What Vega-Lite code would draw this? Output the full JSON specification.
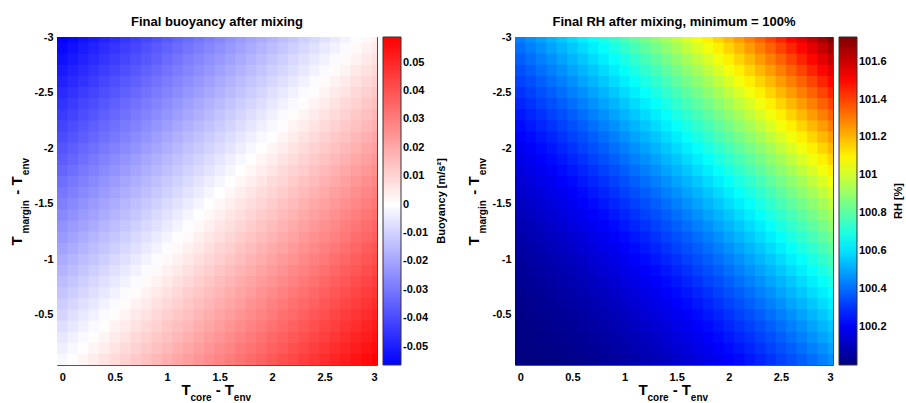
{
"$schema":"https://vega.github.io/schema/vega-lite/v6.json",
"background":"white",
"padding":{"left":8,"top":15,"right":2,"bottom":0},
"config":{
 "font":"Liberation Sans",
 "view":{"stroke":"#555"},
 "axis":{"labelFont":"Liberation Sans","labelFontSize":11,"labelFontWeight":"bold","labelColor":"#000","titleFont":"Liberation Sans","titleColor":"#000","titleFontWeight":"bold","ticks":false,"domain":false,"gridColor":"#000","gridOpacity":0.12,"zindex":1},
 "legend":{"orient":"right","offset":6,"padding":0,"gradientLength":328,"gradientThickness":18,"gradientStrokeColor":"#333","gradientStrokeWidth":1,"labelFont":"Liberation Sans","labelFontSize":11,"labelFontWeight":"bold","labelColor":"#000","labelOffset":3,"labelOverlap":false,"titleOrient":"right","titleAnchor":"middle","titleFont":"Liberation Sans","titleFontSize":11,"titleFontWeight":"bold","titleColor":"#000","titlePadding":8},
 "title":{"font":"Liberation Sans","fontSize":13,"fontWeight":"bold","color":"#000"},
 "concat":{"spacing":17}
},
"datasets":{"g":[
{"x":0,"y":-3,"b":-0.0567,"r":100.432},{"x":0.1,"y":-3,"b":-0.0547,"r":100.461},{"x":0.2,"y":-3,"b":-0.0527,"r":100.492},{"x":0.3,"y":-3,"b":-0.0507,"r":100.523},{"x":0.4,"y":-3,"b":-0.0487,"r":100.555},{"x":0.5,"y":-3,"b":-0.0467,"r":100.588},{"x":0.6,"y":-3,"b":-0.0447,"r":100.622},{"x":0.7,"y":-3,"b":-0.0427,"r":100.657},{"x":0.8,"y":-3,"b":-0.0407,"r":100.693},{"x":0.9,"y":-3,"b":-0.0387,"r":100.73},{"x":1,"y":-3,"b":-0.0367,"r":100.768},{"x":1.1,"y":-3,"b":-0.0347,"r":100.807},{"x":1.2,"y":-3,"b":-0.0327,"r":100.847},{"x":1.3,"y":-3,"b":-0.0307,"r":100.888},{"x":1.4,"y":-3,"b":-0.0287,"r":100.929},{"x":1.5,"y":-3,"b":-0.0267,"r":100.972},{"x":1.6,"y":-3,"b":-0.0247,"r":101.016},{"x":1.7,"y":-3,"b":-0.0227,"r":101.06},{"x":1.8,"y":-3,"b":-0.0207,"r":101.106},{"x":1.9,"y":-3,"b":-0.0187,"r":101.152},{"x":2,"y":-3,"b":-0.0167,"r":101.2},{"x":2.1,"y":-3,"b":-0.0147,"r":101.248},{"x":2.2,"y":-3,"b":-0.0127,"r":101.298},{"x":2.3,"y":-3,"b":-0.0107,"r":101.348},{"x":2.4,"y":-3,"b":-0.0087,"r":101.4},{"x":2.5,"y":-3,"b":-0.0067,"r":101.452},{"x":2.6,"y":-3,"b":-0.0047,"r":101.505},{"x":2.7,"y":-3,"b":-0.0027,"r":101.56},{"x":2.8,"y":-3,"b":-0.0007,"r":101.615},{"x":2.9,"y":-3,"b":0.0013,"r":101.671},{"x":3,"y":-3,"b":0.0033,"r":101.728},
{"x":0,"y":-2.9,"b":-0.0548,"r":100.404},{"x":0.1,"y":-2.9,"b":-0.0528,"r":100.432},{"x":0.2,"y":-2.9,"b":-0.0508,"r":100.461},{"x":0.3,"y":-2.9,"b":-0.0488,"r":100.492},{"x":0.4,"y":-2.9,"b":-0.0468,"r":100.523},{"x":0.5,"y":-2.9,"b":-0.0448,"r":100.555},{"x":0.6,"y":-2.9,"b":-0.0428,"r":100.588},{"x":0.7,"y":-2.9,"b":-0.0408,"r":100.622},{"x":0.8,"y":-2.9,"b":-0.0388,"r":100.657},{"x":0.9,"y":-2.9,"b":-0.0368,"r":100.693},{"x":1,"y":-2.9,"b":-0.0348,"r":100.73},{"x":1.1,"y":-2.9,"b":-0.0328,"r":100.768},{"x":1.2,"y":-2.9,"b":-0.0308,"r":100.807},{"x":1.3,"y":-2.9,"b":-0.0288,"r":100.847},{"x":1.4,"y":-2.9,"b":-0.0268,"r":100.888},{"x":1.5,"y":-2.9,"b":-0.0248,"r":100.929},{"x":1.6,"y":-2.9,"b":-0.0228,"r":100.972},{"x":1.7,"y":-2.9,"b":-0.0208,"r":101.016},{"x":1.8,"y":-2.9,"b":-0.0188,"r":101.06},{"x":1.9,"y":-2.9,"b":-0.0168,"r":101.106},{"x":2,"y":-2.9,"b":-0.0148,"r":101.152},{"x":2.1,"y":-2.9,"b":-0.0128,"r":101.2},{"x":2.2,"y":-2.9,"b":-0.0108,"r":101.248},{"x":2.3,"y":-2.9,"b":-0.0088,"r":101.298},{"x":2.4,"y":-2.9,"b":-0.0068,"r":101.348},{"x":2.5,"y":-2.9,"b":-0.0048,"r":101.4},{"x":2.6,"y":-2.9,"b":-0.0028,"r":101.452},{"x":2.7,"y":-2.9,"b":-0.0008,"r":101.505},{"x":2.8,"y":-2.9,"b":0.0012,"r":101.56},{"x":2.9,"y":-2.9,"b":0.0032,"r":101.615},{"x":3,"y":-2.9,"b":0.0052,"r":101.671},
{"x":0,"y":-2.8,"b":-0.0529,"r":100.376},{"x":0.1,"y":-2.8,"b":-0.0509,"r":100.404},{"x":0.2,"y":-2.8,"b":-0.0489,"r":100.432},{"x":0.3,"y":-2.8,"b":-0.0469,"r":100.461},{"x":0.4,"y":-2.8,"b":-0.0449,"r":100.492},{"x":0.5,"y":-2.8,"b":-0.0429,"r":100.523},{"x":0.6,"y":-2.8,"b":-0.0409,"r":100.555},{"x":0.7,"y":-2.8,"b":-0.0389,"r":100.588},{"x":0.8,"y":-2.8,"b":-0.0369,"r":100.622},{"x":0.9,"y":-2.8,"b":-0.0349,"r":100.657},{"x":1,"y":-2.8,"b":-0.0329,"r":100.693},{"x":1.1,"y":-2.8,"b":-0.0309,"r":100.73},{"x":1.2,"y":-2.8,"b":-0.0289,"r":100.768},{"x":1.3,"y":-2.8,"b":-0.0269,"r":100.807},{"x":1.4,"y":-2.8,"b":-0.0249,"r":100.847},{"x":1.5,"y":-2.8,"b":-0.0229,"r":100.888},{"x":1.6,"y":-2.8,"b":-0.0209,"r":100.929},{"x":1.7,"y":-2.8,"b":-0.0189,"r":100.972},{"x":1.8,"y":-2.8,"b":-0.0169,"r":101.016},{"x":1.9,"y":-2.8,"b":-0.0149,"r":101.06},{"x":2,"y":-2.8,"b":-0.0129,"r":101.106},{"x":2.1,"y":-2.8,"b":-0.0109,"r":101.152},{"x":2.2,"y":-2.8,"b":-0.0089,"r":101.2},{"x":2.3,"y":-2.8,"b":-0.0069,"r":101.248},{"x":2.4,"y":-2.8,"b":-0.0049,"r":101.298},{"x":2.5,"y":-2.8,"b":-0.0029,"r":101.348},{"x":2.6,"y":-2.8,"b":-0.0009,"r":101.4},{"x":2.7,"y":-2.8,"b":0.0011,"r":101.452},{"x":2.8,"y":-2.8,"b":0.0031,"r":101.505},{"x":2.9,"y":-2.8,"b":0.0051,"r":101.56},{"x":3,"y":-2.8,"b":0.0071,"r":101.615},
{"x":0,"y":-2.7,"b":-0.051,"r":100.35},{"x":0.1,"y":-2.7,"b":-0.049,"r":100.376},{"x":0.2,"y":-2.7,"b":-0.047,"r":100.404},{"x":0.3,"y":-2.7,"b":-0.045,"r":100.432},{"x":0.4,"y":-2.7,"b":-0.043,"r":100.461},{"x":0.5,"y":-2.7,"b":-0.041,"r":100.492},{"x":0.6,"y":-2.7,"b":-0.039,"r":100.523},{"x":0.7,"y":-2.7,"b":-0.037,"r":100.555},{"x":0.8,"y":-2.7,"b":-0.035,"r":100.588},{"x":0.9,"y":-2.7,"b":-0.033,"r":100.622},{"x":1,"y":-2.7,"b":-0.031,"r":100.657},{"x":1.1,"y":-2.7,"b":-0.029,"r":100.693},{"x":1.2,"y":-2.7,"b":-0.027,"r":100.73},{"x":1.3,"y":-2.7,"b":-0.025,"r":100.768},{"x":1.4,"y":-2.7,"b":-0.023,"r":100.807},{"x":1.5,"y":-2.7,"b":-0.021,"r":100.847},{"x":1.6,"y":-2.7,"b":-0.019,"r":100.888},{"x":1.7,"y":-2.7,"b":-0.017,"r":100.929},{"x":1.8,"y":-2.7,"b":-0.015,"r":100.972},{"x":1.9,"y":-2.7,"b":-0.013,"r":101.016},{"x":2,"y":-2.7,"b":-0.011,"r":101.06},{"x":2.1,"y":-2.7,"b":-0.009,"r":101.106},{"x":2.2,"y":-2.7,"b":-0.007,"r":101.152},{"x":2.3,"y":-2.7,"b":-0.005,"r":101.2},{"x":2.4,"y":-2.7,"b":-0.003,"r":101.248},{"x":2.5,"y":-2.7,"b":-0.001,"r":101.298},{"x":2.6,"y":-2.7,"b":0.001,"r":101.348},{"x":2.7,"y":-2.7,"b":0.003,"r":101.4},{"x":2.8,"y":-2.7,"b":0.005,"r":101.452},{"x":2.9,"y":-2.7,"b":0.007,"r":101.505},{"x":3,"y":-2.7,"b":0.009,"r":101.56},
{"x":0,"y":-2.6,"b":-0.0491,"r":100.324},{"x":0.1,"y":-2.6,"b":-0.0471,"r":100.35},{"x":0.2,"y":-2.6,"b":-0.0451,"r":100.376},{"x":0.3,"y":-2.6,"b":-0.0431,"r":100.404},{"x":0.4,"y":-2.6,"b":-0.0411,"r":100.432},{"x":0.5,"y":-2.6,"b":-0.0391,"r":100.461},{"x":0.6,"y":-2.6,"b":-0.0371,"r":100.492},{"x":0.7,"y":-2.6,"b":-0.0351,"r":100.523},{"x":0.8,"y":-2.6,"b":-0.0331,"r":100.555},{"x":0.9,"y":-2.6,"b":-0.0311,"r":100.588},{"x":1,"y":-2.6,"b":-0.0291,"r":100.622},{"x":1.1,"y":-2.6,"b":-0.0271,"r":100.657},{"x":1.2,"y":-2.6,"b":-0.0251,"r":100.693},{"x":1.3,"y":-2.6,"b":-0.0231,"r":100.73},{"x":1.4,"y":-2.6,"b":-0.0211,"r":100.768},{"x":1.5,"y":-2.6,"b":-0.0191,"r":100.807},{"x":1.6,"y":-2.6,"b":-0.0171,"r":100.847},{"x":1.7,"y":-2.6,"b":-0.0151,"r":100.888},{"x":1.8,"y":-2.6,"b":-0.0131,"r":100.929},{"x":1.9,"y":-2.6,"b":-0.0111,"r":100.972},{"x":2,"y":-2.6,"b":-0.0091,"r":101.016},{"x":2.1,"y":-2.6,"b":-0.0071,"r":101.06},{"x":2.2,"y":-2.6,"b":-0.0051,"r":101.106},{"x":2.3,"y":-2.6,"b":-0.0031,"r":101.152},{"x":2.4,"y":-2.6,"b":-0.0011,"r":101.2},{"x":2.5,"y":-2.6,"b":0.0009,"r":101.248},{"x":2.6,"y":-2.6,"b":0.0029,"r":101.298},{"x":2.7,"y":-2.6,"b":0.0049,"r":101.348},{"x":2.8,"y":-2.6,"b":0.0069,"r":101.4},{"x":2.9,"y":-2.6,"b":0.0089,"r":101.452},{"x":3,"y":-2.6,"b":0.0109,"r":101.505},
{"x":0,"y":-2.5,"b":-0.0472,"r":100.3},{"x":0.1,"y":-2.5,"b":-0.0452,"r":100.324},{"x":0.2,"y":-2.5,"b":-0.0432,"r":100.35},{"x":0.3,"y":-2.5,"b":-0.0412,"r":100.376},{"x":0.4,"y":-2.5,"b":-0.0392,"r":100.404},{"x":0.5,"y":-2.5,"b":-0.0372,"r":100.432},{"x":0.6,"y":-2.5,"b":-0.0352,"r":100.461},{"x":0.7,"y":-2.5,"b":-0.0332,"r":100.492},{"x":0.8,"y":-2.5,"b":-0.0312,"r":100.523},{"x":0.9,"y":-2.5,"b":-0.0292,"r":100.555},{"x":1,"y":-2.5,"b":-0.0272,"r":100.588},{"x":1.1,"y":-2.5,"b":-0.0252,"r":100.622},{"x":1.2,"y":-2.5,"b":-0.0232,"r":100.657},{"x":1.3,"y":-2.5,"b":-0.0212,"r":100.693},{"x":1.4,"y":-2.5,"b":-0.0192,"r":100.73},{"x":1.5,"y":-2.5,"b":-0.0172,"r":100.768},{"x":1.6,"y":-2.5,"b":-0.0152,"r":100.807},{"x":1.7,"y":-2.5,"b":-0.0132,"r":100.847},{"x":1.8,"y":-2.5,"b":-0.0112,"r":100.888},{"x":1.9,"y":-2.5,"b":-0.0092,"r":100.929},{"x":2,"y":-2.5,"b":-0.0072,"r":100.972},{"x":2.1,"y":-2.5,"b":-0.0052,"r":101.016},{"x":2.2,"y":-2.5,"b":-0.0032,"r":101.06},{"x":2.3,"y":-2.5,"b":-0.0012,"r":101.106},{"x":2.4,"y":-2.5,"b":0.0008,"r":101.152},{"x":2.5,"y":-2.5,"b":0.0028,"r":101.2},{"x":2.6,"y":-2.5,"b":0.0048,"r":101.248},{"x":2.7,"y":-2.5,"b":0.0068,"r":101.298},{"x":2.8,"y":-2.5,"b":0.0088,"r":101.348},{"x":2.9,"y":-2.5,"b":0.0108,"r":101.4},{"x":3,"y":-2.5,"b":0.0128,"r":101.452},
{"x":0,"y":-2.4,"b":-0.0453,"r":100.276},{"x":0.1,"y":-2.4,"b":-0.0433,"r":100.3},{"x":0.2,"y":-2.4,"b":-0.0413,"r":100.324},{"x":0.3,"y":-2.4,"b":-0.0393,"r":100.35},{"x":0.4,"y":-2.4,"b":-0.0373,"r":100.376},{"x":0.5,"y":-2.4,"b":-0.0353,"r":100.404},{"x":0.6,"y":-2.4,"b":-0.0333,"r":100.432},{"x":0.7,"y":-2.4,"b":-0.0313,"r":100.461},{"x":0.8,"y":-2.4,"b":-0.0293,"r":100.492},{"x":0.9,"y":-2.4,"b":-0.0273,"r":100.523},{"x":1,"y":-2.4,"b":-0.0253,"r":100.555},{"x":1.1,"y":-2.4,"b":-0.0233,"r":100.588},{"x":1.2,"y":-2.4,"b":-0.0213,"r":100.622},{"x":1.3,"y":-2.4,"b":-0.0193,"r":100.657},{"x":1.4,"y":-2.4,"b":-0.0173,"r":100.693},{"x":1.5,"y":-2.4,"b":-0.0153,"r":100.73},{"x":1.6,"y":-2.4,"b":-0.0133,"r":100.768},{"x":1.7,"y":-2.4,"b":-0.0113,"r":100.807},{"x":1.8,"y":-2.4,"b":-0.0093,"r":100.847},{"x":1.9,"y":-2.4,"b":-0.0073,"r":100.888},{"x":2,"y":-2.4,"b":-0.0053,"r":100.929},{"x":2.1,"y":-2.4,"b":-0.0033,"r":100.972},{"x":2.2,"y":-2.4,"b":-0.0013,"r":101.016},{"x":2.3,"y":-2.4,"b":0.0007,"r":101.06},{"x":2.4,"y":-2.4,"b":0.0027,"r":101.106},{"x":2.5,"y":-2.4,"b":0.0047,"r":101.152},{"x":2.6,"y":-2.4,"b":0.0067,"r":101.2},{"x":2.7,"y":-2.4,"b":0.0087,"r":101.248},{"x":2.8,"y":-2.4,"b":0.0107,"r":101.298},{"x":2.9,"y":-2.4,"b":0.0127,"r":101.348},{"x":3,"y":-2.4,"b":0.0147,"r":101.4},
{"x":0,"y":-2.3,"b":-0.0434,"r":100.254},{"x":0.1,"y":-2.3,"b":-0.0414,"r":100.276},{"x":0.2,"y":-2.3,"b":-0.0394,"r":100.3},{"x":0.3,"y":-2.3,"b":-0.0374,"r":100.324},{"x":0.4,"y":-2.3,"b":-0.0354,"r":100.35},{"x":0.5,"y":-2.3,"b":-0.0334,"r":100.376},{"x":0.6,"y":-2.3,"b":-0.0314,"r":100.404},{"x":0.7,"y":-2.3,"b":-0.0294,"r":100.432},{"x":0.8,"y":-2.3,"b":-0.0274,"r":100.461},{"x":0.9,"y":-2.3,"b":-0.0254,"r":100.492},{"x":1,"y":-2.3,"b":-0.0234,"r":100.523},{"x":1.1,"y":-2.3,"b":-0.0214,"r":100.555},{"x":1.2,"y":-2.3,"b":-0.0194,"r":100.588},{"x":1.3,"y":-2.3,"b":-0.0174,"r":100.622},{"x":1.4,"y":-2.3,"b":-0.0154,"r":100.657},{"x":1.5,"y":-2.3,"b":-0.0134,"r":100.693},{"x":1.6,"y":-2.3,"b":-0.0114,"r":100.73},{"x":1.7,"y":-2.3,"b":-0.0094,"r":100.768},{"x":1.8,"y":-2.3,"b":-0.0074,"r":100.807},{"x":1.9,"y":-2.3,"b":-0.0054,"r":100.847},{"x":2,"y":-2.3,"b":-0.0034,"r":100.888},{"x":2.1,"y":-2.3,"b":-0.0014,"r":100.929},{"x":2.2,"y":-2.3,"b":0.0006,"r":100.972},{"x":2.3,"y":-2.3,"b":0.0026,"r":101.016},{"x":2.4,"y":-2.3,"b":0.0046,"r":101.06},{"x":2.5,"y":-2.3,"b":0.0066,"r":101.106},{"x":2.6,"y":-2.3,"b":0.0086,"r":101.152},{"x":2.7,"y":-2.3,"b":0.0106,"r":101.2},{"x":2.8,"y":-2.3,"b":0.0126,"r":101.248},{"x":2.9,"y":-2.3,"b":0.0146,"r":101.298},{"x":3,"y":-2.3,"b":0.0166,"r":101.348},
{"x":0,"y":-2.2,"b":-0.0415,"r":100.232},{"x":0.1,"y":-2.2,"b":-0.0395,"r":100.254},{"x":0.2,"y":-2.2,"b":-0.0375,"r":100.276},{"x":0.3,"y":-2.2,"b":-0.0355,"r":100.3},{"x":0.4,"y":-2.2,"b":-0.0335,"r":100.324},{"x":0.5,"y":-2.2,"b":-0.0315,"r":100.35},{"x":0.6,"y":-2.2,"b":-0.0295,"r":100.376},{"x":0.7,"y":-2.2,"b":-0.0275,"r":100.404},{"x":0.8,"y":-2.2,"b":-0.0255,"r":100.432},{"x":0.9,"y":-2.2,"b":-0.0235,"r":100.461},{"x":1,"y":-2.2,"b":-0.0215,"r":100.492},{"x":1.1,"y":-2.2,"b":-0.0195,"r":100.523},{"x":1.2,"y":-2.2,"b":-0.0175,"r":100.555},{"x":1.3,"y":-2.2,"b":-0.0155,"r":100.588},{"x":1.4,"y":-2.2,"b":-0.0135,"r":100.622},{"x":1.5,"y":-2.2,"b":-0.0115,"r":100.657},{"x":1.6,"y":-2.2,"b":-0.0095,"r":100.693},{"x":1.7,"y":-2.2,"b":-0.0075,"r":100.73},{"x":1.8,"y":-2.2,"b":-0.0055,"r":100.768},{"x":1.9,"y":-2.2,"b":-0.0035,"r":100.807},{"x":2,"y":-2.2,"b":-0.0015,"r":100.847},{"x":2.1,"y":-2.2,"b":0.0005,"r":100.888},{"x":2.2,"y":-2.2,"b":0.0025,"r":100.929},{"x":2.3,"y":-2.2,"b":0.0045,"r":100.972},{"x":2.4,"y":-2.2,"b":0.0065,"r":101.016},{"x":2.5,"y":-2.2,"b":0.0085,"r":101.06},{"x":2.6,"y":-2.2,"b":0.0105,"r":101.106},{"x":2.7,"y":-2.2,"b":0.0125,"r":101.152},{"x":2.8,"y":-2.2,"b":0.0145,"r":101.2},{"x":2.9,"y":-2.2,"b":0.0165,"r":101.248},{"x":3,"y":-2.2,"b":0.0185,"r":101.298},
{"x":0,"y":-2.1,"b":-0.0396,"r":100.212},{"x":0.1,"y":-2.1,"b":-0.0376,"r":100.232},{"x":0.2,"y":-2.1,"b":-0.0356,"r":100.254},{"x":0.3,"y":-2.1,"b":-0.0336,"r":100.276},{"x":0.4,"y":-2.1,"b":-0.0316,"r":100.3},{"x":0.5,"y":-2.1,"b":-0.0296,"r":100.324},{"x":0.6,"y":-2.1,"b":-0.0276,"r":100.35},{"x":0.7,"y":-2.1,"b":-0.0256,"r":100.376},{"x":0.8,"y":-2.1,"b":-0.0236,"r":100.404},{"x":0.9,"y":-2.1,"b":-0.0216,"r":100.432},{"x":1,"y":-2.1,"b":-0.0196,"r":100.461},{"x":1.1,"y":-2.1,"b":-0.0176,"r":100.492},{"x":1.2,"y":-2.1,"b":-0.0156,"r":100.523},{"x":1.3,"y":-2.1,"b":-0.0136,"r":100.555},{"x":1.4,"y":-2.1,"b":-0.0116,"r":100.588},{"x":1.5,"y":-2.1,"b":-0.0096,"r":100.622},{"x":1.6,"y":-2.1,"b":-0.0076,"r":100.657},{"x":1.7,"y":-2.1,"b":-0.0056,"r":100.693},{"x":1.8,"y":-2.1,"b":-0.0036,"r":100.73},{"x":1.9,"y":-2.1,"b":-0.0016,"r":100.768},{"x":2,"y":-2.1,"b":0.0004,"r":100.807},{"x":2.1,"y":-2.1,"b":0.0024,"r":100.847},{"x":2.2,"y":-2.1,"b":0.0044,"r":100.888},{"x":2.3,"y":-2.1,"b":0.0064,"r":100.929},{"x":2.4,"y":-2.1,"b":0.0084,"r":100.972},{"x":2.5,"y":-2.1,"b":0.0104,"r":101.016},{"x":2.6,"y":-2.1,"b":0.0124,"r":101.06},{"x":2.7,"y":-2.1,"b":0.0144,"r":101.106},{"x":2.8,"y":-2.1,"b":0.0164,"r":101.152},{"x":2.9,"y":-2.1,"b":0.0184,"r":101.2},{"x":3,"y":-2.1,"b":0.0204,"r":101.248},
{"x":0,"y":-2,"b":-0.0377,"r":100.192},{"x":0.1,"y":-2,"b":-0.0357,"r":100.212},{"x":0.2,"y":-2,"b":-0.0337,"r":100.232},{"x":0.3,"y":-2,"b":-0.0317,"r":100.254},{"x":0.4,"y":-2,"b":-0.0297,"r":100.276},{"x":0.5,"y":-2,"b":-0.0277,"r":100.3},{"x":0.6,"y":-2,"b":-0.0257,"r":100.324},{"x":0.7,"y":-2,"b":-0.0237,"r":100.35},{"x":0.8,"y":-2,"b":-0.0217,"r":100.376},{"x":0.9,"y":-2,"b":-0.0197,"r":100.404},{"x":1,"y":-2,"b":-0.0177,"r":100.432},{"x":1.1,"y":-2,"b":-0.0157,"r":100.461},{"x":1.2,"y":-2,"b":-0.0137,"r":100.492},{"x":1.3,"y":-2,"b":-0.0117,"r":100.523},{"x":1.4,"y":-2,"b":-0.0097,"r":100.555},{"x":1.5,"y":-2,"b":-0.0077,"r":100.588},{"x":1.6,"y":-2,"b":-0.0057,"r":100.622},{"x":1.7,"y":-2,"b":-0.0037,"r":100.657},{"x":1.8,"y":-2,"b":-0.0017,"r":100.693},{"x":1.9,"y":-2,"b":0.0003,"r":100.73},{"x":2,"y":-2,"b":0.0023,"r":100.768},{"x":2.1,"y":-2,"b":0.0043,"r":100.807},{"x":2.2,"y":-2,"b":0.0063,"r":100.847},{"x":2.3,"y":-2,"b":0.0083,"r":100.888},{"x":2.4,"y":-2,"b":0.0103,"r":100.929},{"x":2.5,"y":-2,"b":0.0123,"r":100.972},{"x":2.6,"y":-2,"b":0.0143,"r":101.016},{"x":2.7,"y":-2,"b":0.0163,"r":101.06},{"x":2.8,"y":-2,"b":0.0183,"r":101.106},{"x":2.9,"y":-2,"b":0.0203,"r":101.152},{"x":3,"y":-2,"b":0.0223,"r":101.2},
{"x":0,"y":-1.9,"b":-0.0358,"r":100.173},{"x":0.1,"y":-1.9,"b":-0.0338,"r":100.192},{"x":0.2,"y":-1.9,"b":-0.0318,"r":100.212},{"x":0.3,"y":-1.9,"b":-0.0298,"r":100.232},{"x":0.4,"y":-1.9,"b":-0.0278,"r":100.254},{"x":0.5,"y":-1.9,"b":-0.0258,"r":100.276},{"x":0.6,"y":-1.9,"b":-0.0238,"r":100.3},{"x":0.7,"y":-1.9,"b":-0.0218,"r":100.324},{"x":0.8,"y":-1.9,"b":-0.0198,"r":100.35},{"x":0.9,"y":-1.9,"b":-0.0178,"r":100.376},{"x":1,"y":-1.9,"b":-0.0158,"r":100.404},{"x":1.1,"y":-1.9,"b":-0.0138,"r":100.432},{"x":1.2,"y":-1.9,"b":-0.0118,"r":100.461},{"x":1.3,"y":-1.9,"b":-0.0098,"r":100.492},{"x":1.4,"y":-1.9,"b":-0.0078,"r":100.523},{"x":1.5,"y":-1.9,"b":-0.0058,"r":100.555},{"x":1.6,"y":-1.9,"b":-0.0038,"r":100.588},{"x":1.7,"y":-1.9,"b":-0.0018,"r":100.622},{"x":1.8,"y":-1.9,"b":0.0002,"r":100.657},{"x":1.9,"y":-1.9,"b":0.0022,"r":100.693},{"x":2,"y":-1.9,"b":0.0042,"r":100.73},{"x":2.1,"y":-1.9,"b":0.0062,"r":100.768},{"x":2.2,"y":-1.9,"b":0.0082,"r":100.807},{"x":2.3,"y":-1.9,"b":0.0102,"r":100.847},{"x":2.4,"y":-1.9,"b":0.0122,"r":100.888},{"x":2.5,"y":-1.9,"b":0.0142,"r":100.929},{"x":2.6,"y":-1.9,"b":0.0162,"r":100.972},{"x":2.7,"y":-1.9,"b":0.0182,"r":101.016},{"x":2.8,"y":-1.9,"b":0.0202,"r":101.06},{"x":2.9,"y":-1.9,"b":0.0222,"r":101.106},{"x":3,"y":-1.9,"b":0.0242,"r":101.152},
{"x":0,"y":-1.8,"b":-0.0339,"r":100.156},{"x":0.1,"y":-1.8,"b":-0.0319,"r":100.173},{"x":0.2,"y":-1.8,"b":-0.0299,"r":100.192},{"x":0.3,"y":-1.8,"b":-0.0279,"r":100.212},{"x":0.4,"y":-1.8,"b":-0.0259,"r":100.232},{"x":0.5,"y":-1.8,"b":-0.0239,"r":100.254},{"x":0.6,"y":-1.8,"b":-0.0219,"r":100.276},{"x":0.7,"y":-1.8,"b":-0.0199,"r":100.3},{"x":0.8,"y":-1.8,"b":-0.0179,"r":100.324},{"x":0.9,"y":-1.8,"b":-0.0159,"r":100.35},{"x":1,"y":-1.8,"b":-0.0139,"r":100.376},{"x":1.1,"y":-1.8,"b":-0.0119,"r":100.404},{"x":1.2,"y":-1.8,"b":-0.0099,"r":100.432},{"x":1.3,"y":-1.8,"b":-0.0079,"r":100.461},{"x":1.4,"y":-1.8,"b":-0.0059,"r":100.492},{"x":1.5,"y":-1.8,"b":-0.0039,"r":100.523},{"x":1.6,"y":-1.8,"b":-0.0019,"r":100.555},{"x":1.7,"y":-1.8,"b":0.0001,"r":100.588},{"x":1.8,"y":-1.8,"b":0.0021,"r":100.622},{"x":1.9,"y":-1.8,"b":0.0041,"r":100.657},{"x":2,"y":-1.8,"b":0.0061,"r":100.693},{"x":2.1,"y":-1.8,"b":0.0081,"r":100.73},{"x":2.2,"y":-1.8,"b":0.0101,"r":100.768},{"x":2.3,"y":-1.8,"b":0.0121,"r":100.807},{"x":2.4,"y":-1.8,"b":0.0141,"r":100.847},{"x":2.5,"y":-1.8,"b":0.0161,"r":100.888},{"x":2.6,"y":-1.8,"b":0.0181,"r":100.929},{"x":2.7,"y":-1.8,"b":0.0201,"r":100.972},{"x":2.8,"y":-1.8,"b":0.0221,"r":101.016},{"x":2.9,"y":-1.8,"b":0.0241,"r":101.06},{"x":3,"y":-1.8,"b":0.0261,"r":101.106},
{"x":0,"y":-1.7,"b":-0.032,"r":100.139},{"x":0.1,"y":-1.7,"b":-0.03,"r":100.156},{"x":0.2,"y":-1.7,"b":-0.028,"r":100.173},{"x":0.3,"y":-1.7,"b":-0.026,"r":100.192},{"x":0.4,"y":-1.7,"b":-0.024,"r":100.212},{"x":0.5,"y":-1.7,"b":-0.022,"r":100.232},{"x":0.6,"y":-1.7,"b":-0.02,"r":100.254},{"x":0.7,"y":-1.7,"b":-0.018,"r":100.276},{"x":0.8,"y":-1.7,"b":-0.016,"r":100.3},{"x":0.9,"y":-1.7,"b":-0.014,"r":100.324},{"x":1,"y":-1.7,"b":-0.012,"r":100.35},{"x":1.1,"y":-1.7,"b":-0.01,"r":100.376},{"x":1.2,"y":-1.7,"b":-0.008,"r":100.404},{"x":1.3,"y":-1.7,"b":-0.006,"r":100.432},{"x":1.4,"y":-1.7,"b":-0.004,"r":100.461},{"x":1.5,"y":-1.7,"b":-0.002,"r":100.492},{"x":1.6,"y":-1.7,"b":0,"r":100.523},{"x":1.7,"y":-1.7,"b":0.002,"r":100.555},{"x":1.8,"y":-1.7,"b":0.004,"r":100.588},{"x":1.9,"y":-1.7,"b":0.006,"r":100.622},{"x":2,"y":-1.7,"b":0.008,"r":100.657},{"x":2.1,"y":-1.7,"b":0.01,"r":100.693},{"x":2.2,"y":-1.7,"b":0.012,"r":100.73},{"x":2.3,"y":-1.7,"b":0.014,"r":100.768},{"x":2.4,"y":-1.7,"b":0.016,"r":100.807},{"x":2.5,"y":-1.7,"b":0.018,"r":100.847},{"x":2.6,"y":-1.7,"b":0.02,"r":100.888},{"x":2.7,"y":-1.7,"b":0.022,"r":100.929},{"x":2.8,"y":-1.7,"b":0.024,"r":100.972},{"x":2.9,"y":-1.7,"b":0.026,"r":101.016},{"x":3,"y":-1.7,"b":0.028,"r":101.06},
{"x":0,"y":-1.6,"b":-0.0301,"r":100.123},{"x":0.1,"y":-1.6,"b":-0.0281,"r":100.139},{"x":0.2,"y":-1.6,"b":-0.0261,"r":100.156},{"x":0.3,"y":-1.6,"b":-0.0241,"r":100.173},{"x":0.4,"y":-1.6,"b":-0.0221,"r":100.192},{"x":0.5,"y":-1.6,"b":-0.0201,"r":100.212},{"x":0.6,"y":-1.6,"b":-0.0181,"r":100.232},{"x":0.7,"y":-1.6,"b":-0.0161,"r":100.254},{"x":0.8,"y":-1.6,"b":-0.0141,"r":100.276},{"x":0.9,"y":-1.6,"b":-0.0121,"r":100.3},{"x":1,"y":-1.6,"b":-0.0101,"r":100.324},{"x":1.1,"y":-1.6,"b":-0.0081,"r":100.35},{"x":1.2,"y":-1.6,"b":-0.0061,"r":100.376},{"x":1.3,"y":-1.6,"b":-0.0041,"r":100.404},{"x":1.4,"y":-1.6,"b":-0.0021,"r":100.432},{"x":1.5,"y":-1.6,"b":-0.0001,"r":100.461},{"x":1.6,"y":-1.6,"b":0.0019,"r":100.492},{"x":1.7,"y":-1.6,"b":0.0039,"r":100.523},{"x":1.8,"y":-1.6,"b":0.0059,"r":100.555},{"x":1.9,"y":-1.6,"b":0.0079,"r":100.588},{"x":2,"y":-1.6,"b":0.0099,"r":100.622},{"x":2.1,"y":-1.6,"b":0.0119,"r":100.657},{"x":2.2,"y":-1.6,"b":0.0139,"r":100.693},{"x":2.3,"y":-1.6,"b":0.0159,"r":100.73},{"x":2.4,"y":-1.6,"b":0.0179,"r":100.768},{"x":2.5,"y":-1.6,"b":0.0199,"r":100.807},{"x":2.6,"y":-1.6,"b":0.0219,"r":100.847},{"x":2.7,"y":-1.6,"b":0.0239,"r":100.888},{"x":2.8,"y":-1.6,"b":0.0259,"r":100.929},{"x":2.9,"y":-1.6,"b":0.0279,"r":100.972},{"x":3,"y":-1.6,"b":0.0299,"r":101.016},
{"x":0,"y":-1.5,"b":-0.0282,"r":100.108},{"x":0.1,"y":-1.5,"b":-0.0262,"r":100.123},{"x":0.2,"y":-1.5,"b":-0.0242,"r":100.139},{"x":0.3,"y":-1.5,"b":-0.0222,"r":100.156},{"x":0.4,"y":-1.5,"b":-0.0202,"r":100.173},{"x":0.5,"y":-1.5,"b":-0.0182,"r":100.192},{"x":0.6,"y":-1.5,"b":-0.0162,"r":100.212},{"x":0.7,"y":-1.5,"b":-0.0142,"r":100.232},{"x":0.8,"y":-1.5,"b":-0.0122,"r":100.254},{"x":0.9,"y":-1.5,"b":-0.0102,"r":100.276},{"x":1,"y":-1.5,"b":-0.0082,"r":100.3},{"x":1.1,"y":-1.5,"b":-0.0062,"r":100.324},{"x":1.2,"y":-1.5,"b":-0.0042,"r":100.35},{"x":1.3,"y":-1.5,"b":-0.0022,"r":100.376},{"x":1.4,"y":-1.5,"b":-0.0002,"r":100.404},{"x":1.5,"y":-1.5,"b":0.0018,"r":100.432},{"x":1.6,"y":-1.5,"b":0.0038,"r":100.461},{"x":1.7,"y":-1.5,"b":0.0058,"r":100.492},{"x":1.8,"y":-1.5,"b":0.0078,"r":100.523},{"x":1.9,"y":-1.5,"b":0.0098,"r":100.555},{"x":2,"y":-1.5,"b":0.0118,"r":100.588},{"x":2.1,"y":-1.5,"b":0.0138,"r":100.622},{"x":2.2,"y":-1.5,"b":0.0158,"r":100.657},{"x":2.3,"y":-1.5,"b":0.0178,"r":100.693},{"x":2.4,"y":-1.5,"b":0.0198,"r":100.73},{"x":2.5,"y":-1.5,"b":0.0218,"r":100.768},{"x":2.6,"y":-1.5,"b":0.0238,"r":100.807},{"x":2.7,"y":-1.5,"b":0.0258,"r":100.847},{"x":2.8,"y":-1.5,"b":0.0278,"r":100.888},{"x":2.9,"y":-1.5,"b":0.0298,"r":100.929},{"x":3,"y":-1.5,"b":0.0318,"r":100.972},
{"x":0,"y":-1.4,"b":-0.0263,"r":100.094},{"x":0.1,"y":-1.4,"b":-0.0243,"r":100.108},{"x":0.2,"y":-1.4,"b":-0.0223,"r":100.123},{"x":0.3,"y":-1.4,"b":-0.0203,"r":100.139},{"x":0.4,"y":-1.4,"b":-0.0183,"r":100.156},{"x":0.5,"y":-1.4,"b":-0.0163,"r":100.173},{"x":0.6,"y":-1.4,"b":-0.0143,"r":100.192},{"x":0.7,"y":-1.4,"b":-0.0123,"r":100.212},{"x":0.8,"y":-1.4,"b":-0.0103,"r":100.232},{"x":0.9,"y":-1.4,"b":-0.0083,"r":100.254},{"x":1,"y":-1.4,"b":-0.0063,"r":100.276},{"x":1.1,"y":-1.4,"b":-0.0043,"r":100.3},{"x":1.2,"y":-1.4,"b":-0.0023,"r":100.324},{"x":1.3,"y":-1.4,"b":-0.0003,"r":100.35},{"x":1.4,"y":-1.4,"b":0.0017,"r":100.376},{"x":1.5,"y":-1.4,"b":0.0037,"r":100.404},{"x":1.6,"y":-1.4,"b":0.0057,"r":100.432},{"x":1.7,"y":-1.4,"b":0.0077,"r":100.461},{"x":1.8,"y":-1.4,"b":0.0097,"r":100.492},{"x":1.9,"y":-1.4,"b":0.0117,"r":100.523},{"x":2,"y":-1.4,"b":0.0137,"r":100.555},{"x":2.1,"y":-1.4,"b":0.0157,"r":100.588},{"x":2.2,"y":-1.4,"b":0.0177,"r":100.622},{"x":2.3,"y":-1.4,"b":0.0197,"r":100.657},{"x":2.4,"y":-1.4,"b":0.0217,"r":100.693},{"x":2.5,"y":-1.4,"b":0.0237,"r":100.73},{"x":2.6,"y":-1.4,"b":0.0257,"r":100.768},{"x":2.7,"y":-1.4,"b":0.0277,"r":100.807},{"x":2.8,"y":-1.4,"b":0.0297,"r":100.847},{"x":2.9,"y":-1.4,"b":0.0317,"r":100.888},{"x":3,"y":-1.4,"b":0.0337,"r":100.929},
{"x":0,"y":-1.3,"b":-0.0244,"r":100.081},{"x":0.1,"y":-1.3,"b":-0.0224,"r":100.094},{"x":0.2,"y":-1.3,"b":-0.0204,"r":100.108},{"x":0.3,"y":-1.3,"b":-0.0184,"r":100.123},{"x":0.4,"y":-1.3,"b":-0.0164,"r":100.139},{"x":0.5,"y":-1.3,"b":-0.0144,"r":100.156},{"x":0.6,"y":-1.3,"b":-0.0124,"r":100.173},{"x":0.7,"y":-1.3,"b":-0.0104,"r":100.192},{"x":0.8,"y":-1.3,"b":-0.0084,"r":100.212},{"x":0.9,"y":-1.3,"b":-0.0064,"r":100.232},{"x":1,"y":-1.3,"b":-0.0044,"r":100.254},{"x":1.1,"y":-1.3,"b":-0.0024,"r":100.276},{"x":1.2,"y":-1.3,"b":-0.0004,"r":100.3},{"x":1.3,"y":-1.3,"b":0.0016,"r":100.324},{"x":1.4,"y":-1.3,"b":0.0036,"r":100.35},{"x":1.5,"y":-1.3,"b":0.0056,"r":100.376},{"x":1.6,"y":-1.3,"b":0.0076,"r":100.404},{"x":1.7,"y":-1.3,"b":0.0096,"r":100.432},{"x":1.8,"y":-1.3,"b":0.0116,"r":100.461},{"x":1.9,"y":-1.3,"b":0.0136,"r":100.492},{"x":2,"y":-1.3,"b":0.0156,"r":100.523},{"x":2.1,"y":-1.3,"b":0.0176,"r":100.555},{"x":2.2,"y":-1.3,"b":0.0196,"r":100.588},{"x":2.3,"y":-1.3,"b":0.0216,"r":100.622},{"x":2.4,"y":-1.3,"b":0.0236,"r":100.657},{"x":2.5,"y":-1.3,"b":0.0256,"r":100.693},{"x":2.6,"y":-1.3,"b":0.0276,"r":100.73},{"x":2.7,"y":-1.3,"b":0.0296,"r":100.768},{"x":2.8,"y":-1.3,"b":0.0316,"r":100.807},{"x":2.9,"y":-1.3,"b":0.0336,"r":100.847},{"x":3,"y":-1.3,"b":0.0356,"r":100.888},
{"x":0,"y":-1.2,"b":-0.0225,"r":100.069},{"x":0.1,"y":-1.2,"b":-0.0205,"r":100.081},{"x":0.2,"y":-1.2,"b":-0.0185,"r":100.094},{"x":0.3,"y":-1.2,"b":-0.0165,"r":100.108},{"x":0.4,"y":-1.2,"b":-0.0145,"r":100.123},{"x":0.5,"y":-1.2,"b":-0.0125,"r":100.139},{"x":0.6,"y":-1.2,"b":-0.0105,"r":100.156},{"x":0.7,"y":-1.2,"b":-0.0085,"r":100.173},{"x":0.8,"y":-1.2,"b":-0.0065,"r":100.192},{"x":0.9,"y":-1.2,"b":-0.0045,"r":100.212},{"x":1,"y":-1.2,"b":-0.0025,"r":100.232},{"x":1.1,"y":-1.2,"b":-0.0005,"r":100.254},{"x":1.2,"y":-1.2,"b":0.0015,"r":100.276},{"x":1.3,"y":-1.2,"b":0.0035,"r":100.3},{"x":1.4,"y":-1.2,"b":0.0055,"r":100.324},{"x":1.5,"y":-1.2,"b":0.0075,"r":100.35},{"x":1.6,"y":-1.2,"b":0.0095,"r":100.376},{"x":1.7,"y":-1.2,"b":0.0115,"r":100.404},{"x":1.8,"y":-1.2,"b":0.0135,"r":100.432},{"x":1.9,"y":-1.2,"b":0.0155,"r":100.461},{"x":2,"y":-1.2,"b":0.0175,"r":100.492},{"x":2.1,"y":-1.2,"b":0.0195,"r":100.523},{"x":2.2,"y":-1.2,"b":0.0215,"r":100.555},{"x":2.3,"y":-1.2,"b":0.0235,"r":100.588},{"x":2.4,"y":-1.2,"b":0.0255,"r":100.622},{"x":2.5,"y":-1.2,"b":0.0275,"r":100.657},{"x":2.6,"y":-1.2,"b":0.0295,"r":100.693},{"x":2.7,"y":-1.2,"b":0.0315,"r":100.73},{"x":2.8,"y":-1.2,"b":0.0335,"r":100.768},{"x":2.9,"y":-1.2,"b":0.0355,"r":100.807},{"x":3,"y":-1.2,"b":0.0375,"r":100.847},
{"x":0,"y":-1.1,"b":-0.0206,"r":100.058},{"x":0.1,"y":-1.1,"b":-0.0186,"r":100.069},{"x":0.2,"y":-1.1,"b":-0.0166,"r":100.081},{"x":0.3,"y":-1.1,"b":-0.0146,"r":100.094},{"x":0.4,"y":-1.1,"b":-0.0126,"r":100.108},{"x":0.5,"y":-1.1,"b":-0.0106,"r":100.123},{"x":0.6,"y":-1.1,"b":-0.0086,"r":100.139},{"x":0.7,"y":-1.1,"b":-0.0066,"r":100.156},{"x":0.8,"y":-1.1,"b":-0.0046,"r":100.173},{"x":0.9,"y":-1.1,"b":-0.0026,"r":100.192},{"x":1,"y":-1.1,"b":-0.0006,"r":100.212},{"x":1.1,"y":-1.1,"b":0.0014,"r":100.232},{"x":1.2,"y":-1.1,"b":0.0034,"r":100.254},{"x":1.3,"y":-1.1,"b":0.0054,"r":100.276},{"x":1.4,"y":-1.1,"b":0.0074,"r":100.3},{"x":1.5,"y":-1.1,"b":0.0094,"r":100.324},{"x":1.6,"y":-1.1,"b":0.0114,"r":100.35},{"x":1.7,"y":-1.1,"b":0.0134,"r":100.376},{"x":1.8,"y":-1.1,"b":0.0154,"r":100.404},{"x":1.9,"y":-1.1,"b":0.0174,"r":100.432},{"x":2,"y":-1.1,"b":0.0194,"r":100.461},{"x":2.1,"y":-1.1,"b":0.0214,"r":100.492},{"x":2.2,"y":-1.1,"b":0.0234,"r":100.523},{"x":2.3,"y":-1.1,"b":0.0254,"r":100.555},{"x":2.4,"y":-1.1,"b":0.0274,"r":100.588},{"x":2.5,"y":-1.1,"b":0.0294,"r":100.622},{"x":2.6,"y":-1.1,"b":0.0314,"r":100.657},{"x":2.7,"y":-1.1,"b":0.0334,"r":100.693},{"x":2.8,"y":-1.1,"b":0.0354,"r":100.73},{"x":2.9,"y":-1.1,"b":0.0374,"r":100.768},{"x":3,"y":-1.1,"b":0.0394,"r":100.807},
{"x":0,"y":-1,"b":-0.0187,"r":100.048},{"x":0.1,"y":-1,"b":-0.0167,"r":100.058},{"x":0.2,"y":-1,"b":-0.0147,"r":100.069},{"x":0.3,"y":-1,"b":-0.0127,"r":100.081},{"x":0.4,"y":-1,"b":-0.0107,"r":100.094},{"x":0.5,"y":-1,"b":-0.0087,"r":100.108},{"x":0.6,"y":-1,"b":-0.0067,"r":100.123},{"x":0.7,"y":-1,"b":-0.0047,"r":100.139},{"x":0.8,"y":-1,"b":-0.0027,"r":100.156},{"x":0.9,"y":-1,"b":-0.0007,"r":100.173},{"x":1,"y":-1,"b":0.0013,"r":100.192},{"x":1.1,"y":-1,"b":0.0033,"r":100.212},{"x":1.2,"y":-1,"b":0.0053,"r":100.232},{"x":1.3,"y":-1,"b":0.0073,"r":100.254},{"x":1.4,"y":-1,"b":0.0093,"r":100.276},{"x":1.5,"y":-1,"b":0.0113,"r":100.3},{"x":1.6,"y":-1,"b":0.0133,"r":100.324},{"x":1.7,"y":-1,"b":0.0153,"r":100.35},{"x":1.8,"y":-1,"b":0.0173,"r":100.376},{"x":1.9,"y":-1,"b":0.0193,"r":100.404},{"x":2,"y":-1,"b":0.0213,"r":100.432},{"x":2.1,"y":-1,"b":0.0233,"r":100.461},{"x":2.2,"y":-1,"b":0.0253,"r":100.492},{"x":2.3,"y":-1,"b":0.0273,"r":100.523},{"x":2.4,"y":-1,"b":0.0293,"r":100.555},{"x":2.5,"y":-1,"b":0.0313,"r":100.588},{"x":2.6,"y":-1,"b":0.0333,"r":100.622},{"x":2.7,"y":-1,"b":0.0353,"r":100.657},{"x":2.8,"y":-1,"b":0.0373,"r":100.693},{"x":2.9,"y":-1,"b":0.0393,"r":100.73},{"x":3,"y":-1,"b":0.0413,"r":100.768},
{"x":0,"y":-0.9,"b":-0.0168,"r":100.039},{"x":0.1,"y":-0.9,"b":-0.0148,"r":100.048},{"x":0.2,"y":-0.9,"b":-0.0128,"r":100.058},{"x":0.3,"y":-0.9,"b":-0.0108,"r":100.069},{"x":0.4,"y":-0.9,"b":-0.0088,"r":100.081},{"x":0.5,"y":-0.9,"b":-0.0068,"r":100.094},{"x":0.6,"y":-0.9,"b":-0.0048,"r":100.108},{"x":0.7,"y":-0.9,"b":-0.0028,"r":100.123},{"x":0.8,"y":-0.9,"b":-0.0008,"r":100.139},{"x":0.9,"y":-0.9,"b":0.0012,"r":100.156},{"x":1,"y":-0.9,"b":0.0032,"r":100.173},{"x":1.1,"y":-0.9,"b":0.0052,"r":100.192},{"x":1.2,"y":-0.9,"b":0.0072,"r":100.212},{"x":1.3,"y":-0.9,"b":0.0092,"r":100.232},{"x":1.4,"y":-0.9,"b":0.0112,"r":100.254},{"x":1.5,"y":-0.9,"b":0.0132,"r":100.276},{"x":1.6,"y":-0.9,"b":0.0152,"r":100.3},{"x":1.7,"y":-0.9,"b":0.0172,"r":100.324},{"x":1.8,"y":-0.9,"b":0.0192,"r":100.35},{"x":1.9,"y":-0.9,"b":0.0212,"r":100.376},{"x":2,"y":-0.9,"b":0.0232,"r":100.404},{"x":2.1,"y":-0.9,"b":0.0252,"r":100.432},{"x":2.2,"y":-0.9,"b":0.0272,"r":100.461},{"x":2.3,"y":-0.9,"b":0.0292,"r":100.492},{"x":2.4,"y":-0.9,"b":0.0312,"r":100.523},{"x":2.5,"y":-0.9,"b":0.0332,"r":100.555},{"x":2.6,"y":-0.9,"b":0.0352,"r":100.588},{"x":2.7,"y":-0.9,"b":0.0372,"r":100.622},{"x":2.8,"y":-0.9,"b":0.0392,"r":100.657},{"x":2.9,"y":-0.9,"b":0.0412,"r":100.693},{"x":3,"y":-0.9,"b":0.0432,"r":100.73},
{"x":0,"y":-0.8,"b":-0.0149,"r":100.031},{"x":0.1,"y":-0.8,"b":-0.0129,"r":100.039},{"x":0.2,"y":-0.8,"b":-0.0109,"r":100.048},{"x":0.3,"y":-0.8,"b":-0.0089,"r":100.058},{"x":0.4,"y":-0.8,"b":-0.0069,"r":100.069},{"x":0.5,"y":-0.8,"b":-0.0049,"r":100.081},{"x":0.6,"y":-0.8,"b":-0.0029,"r":100.094},{"x":0.7,"y":-0.8,"b":-0.0009,"r":100.108},{"x":0.8,"y":-0.8,"b":0.0011,"r":100.123},{"x":0.9,"y":-0.8,"b":0.0031,"r":100.139},{"x":1,"y":-0.8,"b":0.0051,"r":100.156},{"x":1.1,"y":-0.8,"b":0.0071,"r":100.173},{"x":1.2,"y":-0.8,"b":0.0091,"r":100.192},{"x":1.3,"y":-0.8,"b":0.0111,"r":100.212},{"x":1.4,"y":-0.8,"b":0.0131,"r":100.232},{"x":1.5,"y":-0.8,"b":0.0151,"r":100.254},{"x":1.6,"y":-0.8,"b":0.0171,"r":100.276},{"x":1.7,"y":-0.8,"b":0.0191,"r":100.3},{"x":1.8,"y":-0.8,"b":0.0211,"r":100.324},{"x":1.9,"y":-0.8,"b":0.0231,"r":100.35},{"x":2,"y":-0.8,"b":0.0251,"r":100.376},{"x":2.1,"y":-0.8,"b":0.0271,"r":100.404},{"x":2.2,"y":-0.8,"b":0.0291,"r":100.432},{"x":2.3,"y":-0.8,"b":0.0311,"r":100.461},{"x":2.4,"y":-0.8,"b":0.0331,"r":100.492},{"x":2.5,"y":-0.8,"b":0.0351,"r":100.523},{"x":2.6,"y":-0.8,"b":0.0371,"r":100.555},{"x":2.7,"y":-0.8,"b":0.0391,"r":100.588},{"x":2.8,"y":-0.8,"b":0.0411,"r":100.622},{"x":2.9,"y":-0.8,"b":0.0431,"r":100.657},{"x":3,"y":-0.8,"b":0.0451,"r":100.693},
{"x":0,"y":-0.7,"b":-0.013,"r":100.024},{"x":0.1,"y":-0.7,"b":-0.011,"r":100.031},{"x":0.2,"y":-0.7,"b":-0.009,"r":100.039},{"x":0.3,"y":-0.7,"b":-0.007,"r":100.048},{"x":0.4,"y":-0.7,"b":-0.005,"r":100.058},{"x":0.5,"y":-0.7,"b":-0.003,"r":100.069},{"x":0.6,"y":-0.7,"b":-0.001,"r":100.081},{"x":0.7,"y":-0.7,"b":0.001,"r":100.094},{"x":0.8,"y":-0.7,"b":0.003,"r":100.108},{"x":0.9,"y":-0.7,"b":0.005,"r":100.123},{"x":1,"y":-0.7,"b":0.007,"r":100.139},{"x":1.1,"y":-0.7,"b":0.009,"r":100.156},{"x":1.2,"y":-0.7,"b":0.011,"r":100.173},{"x":1.3,"y":-0.7,"b":0.013,"r":100.192},{"x":1.4,"y":-0.7,"b":0.015,"r":100.212},{"x":1.5,"y":-0.7,"b":0.017,"r":100.232},{"x":1.6,"y":-0.7,"b":0.019,"r":100.254},{"x":1.7,"y":-0.7,"b":0.021,"r":100.276},{"x":1.8,"y":-0.7,"b":0.023,"r":100.3},{"x":1.9,"y":-0.7,"b":0.025,"r":100.324},{"x":2,"y":-0.7,"b":0.027,"r":100.35},{"x":2.1,"y":-0.7,"b":0.029,"r":100.376},{"x":2.2,"y":-0.7,"b":0.031,"r":100.404},{"x":2.3,"y":-0.7,"b":0.033,"r":100.432},{"x":2.4,"y":-0.7,"b":0.035,"r":100.461},{"x":2.5,"y":-0.7,"b":0.037,"r":100.492},{"x":2.6,"y":-0.7,"b":0.039,"r":100.523},{"x":2.7,"y":-0.7,"b":0.041,"r":100.555},{"x":2.8,"y":-0.7,"b":0.043,"r":100.588},{"x":2.9,"y":-0.7,"b":0.045,"r":100.622},{"x":3,"y":-0.7,"b":0.047,"r":100.657},
{"x":0,"y":-0.6,"b":-0.0111,"r":100.017},{"x":0.1,"y":-0.6,"b":-0.0091,"r":100.024},{"x":0.2,"y":-0.6,"b":-0.0071,"r":100.031},{"x":0.3,"y":-0.6,"b":-0.0051,"r":100.039},{"x":0.4,"y":-0.6,"b":-0.0031,"r":100.048},{"x":0.5,"y":-0.6,"b":-0.0011,"r":100.058},{"x":0.6,"y":-0.6,"b":0.0009,"r":100.069},{"x":0.7,"y":-0.6,"b":0.0029,"r":100.081},{"x":0.8,"y":-0.6,"b":0.0049,"r":100.094},{"x":0.9,"y":-0.6,"b":0.0069,"r":100.108},{"x":1,"y":-0.6,"b":0.0089,"r":100.123},{"x":1.1,"y":-0.6,"b":0.0109,"r":100.139},{"x":1.2,"y":-0.6,"b":0.0129,"r":100.156},{"x":1.3,"y":-0.6,"b":0.0149,"r":100.173},{"x":1.4,"y":-0.6,"b":0.0169,"r":100.192},{"x":1.5,"y":-0.6,"b":0.0189,"r":100.212},{"x":1.6,"y":-0.6,"b":0.0209,"r":100.232},{"x":1.7,"y":-0.6,"b":0.0229,"r":100.254},{"x":1.8,"y":-0.6,"b":0.0249,"r":100.276},{"x":1.9,"y":-0.6,"b":0.0269,"r":100.3},{"x":2,"y":-0.6,"b":0.0289,"r":100.324},{"x":2.1,"y":-0.6,"b":0.0309,"r":100.35},{"x":2.2,"y":-0.6,"b":0.0329,"r":100.376},{"x":2.3,"y":-0.6,"b":0.0349,"r":100.404},{"x":2.4,"y":-0.6,"b":0.0369,"r":100.432},{"x":2.5,"y":-0.6,"b":0.0389,"r":100.461},{"x":2.6,"y":-0.6,"b":0.0409,"r":100.492},{"x":2.7,"y":-0.6,"b":0.0429,"r":100.523},{"x":2.8,"y":-0.6,"b":0.0449,"r":100.555},{"x":2.9,"y":-0.6,"b":0.0469,"r":100.588},{"x":3,"y":-0.6,"b":0.0489,"r":100.622},
{"x":0,"y":-0.5,"b":-0.0092,"r":100.012},{"x":0.1,"y":-0.5,"b":-0.0072,"r":100.017},{"x":0.2,"y":-0.5,"b":-0.0052,"r":100.024},{"x":0.3,"y":-0.5,"b":-0.0032,"r":100.031},{"x":0.4,"y":-0.5,"b":-0.0012,"r":100.039},{"x":0.5,"y":-0.5,"b":0.0008,"r":100.048},{"x":0.6,"y":-0.5,"b":0.0028,"r":100.058},{"x":0.7,"y":-0.5,"b":0.0048,"r":100.069},{"x":0.8,"y":-0.5,"b":0.0068,"r":100.081},{"x":0.9,"y":-0.5,"b":0.0088,"r":100.094},{"x":1,"y":-0.5,"b":0.0108,"r":100.108},{"x":1.1,"y":-0.5,"b":0.0128,"r":100.123},{"x":1.2,"y":-0.5,"b":0.0148,"r":100.139},{"x":1.3,"y":-0.5,"b":0.0168,"r":100.156},{"x":1.4,"y":-0.5,"b":0.0188,"r":100.173},{"x":1.5,"y":-0.5,"b":0.0208,"r":100.192},{"x":1.6,"y":-0.5,"b":0.0228,"r":100.212},{"x":1.7,"y":-0.5,"b":0.0248,"r":100.232},{"x":1.8,"y":-0.5,"b":0.0268,"r":100.254},{"x":1.9,"y":-0.5,"b":0.0288,"r":100.276},{"x":2,"y":-0.5,"b":0.0308,"r":100.3},{"x":2.1,"y":-0.5,"b":0.0328,"r":100.324},{"x":2.2,"y":-0.5,"b":0.0348,"r":100.35},{"x":2.3,"y":-0.5,"b":0.0368,"r":100.376},{"x":2.4,"y":-0.5,"b":0.0388,"r":100.404},{"x":2.5,"y":-0.5,"b":0.0408,"r":100.432},{"x":2.6,"y":-0.5,"b":0.0428,"r":100.461},{"x":2.7,"y":-0.5,"b":0.0448,"r":100.492},{"x":2.8,"y":-0.5,"b":0.0468,"r":100.523},{"x":2.9,"y":-0.5,"b":0.0488,"r":100.555},{"x":3,"y":-0.5,"b":0.0508,"r":100.588},
{"x":0,"y":-0.4,"b":-0.0073,"r":100.008},{"x":0.1,"y":-0.4,"b":-0.0053,"r":100.012},{"x":0.2,"y":-0.4,"b":-0.0033,"r":100.017},{"x":0.3,"y":-0.4,"b":-0.0013,"r":100.024},{"x":0.4,"y":-0.4,"b":0.0007,"r":100.031},{"x":0.5,"y":-0.4,"b":0.0027,"r":100.039},{"x":0.6,"y":-0.4,"b":0.0047,"r":100.048},{"x":0.7,"y":-0.4,"b":0.0067,"r":100.058},{"x":0.8,"y":-0.4,"b":0.0087,"r":100.069},{"x":0.9,"y":-0.4,"b":0.0107,"r":100.081},{"x":1,"y":-0.4,"b":0.0127,"r":100.094},{"x":1.1,"y":-0.4,"b":0.0147,"r":100.108},{"x":1.2,"y":-0.4,"b":0.0167,"r":100.123},{"x":1.3,"y":-0.4,"b":0.0187,"r":100.139},{"x":1.4,"y":-0.4,"b":0.0207,"r":100.156},{"x":1.5,"y":-0.4,"b":0.0227,"r":100.173},{"x":1.6,"y":-0.4,"b":0.0247,"r":100.192},{"x":1.7,"y":-0.4,"b":0.0267,"r":100.212},{"x":1.8,"y":-0.4,"b":0.0287,"r":100.232},{"x":1.9,"y":-0.4,"b":0.0307,"r":100.254},{"x":2,"y":-0.4,"b":0.0327,"r":100.276},{"x":2.1,"y":-0.4,"b":0.0347,"r":100.3},{"x":2.2,"y":-0.4,"b":0.0367,"r":100.324},{"x":2.3,"y":-0.4,"b":0.0387,"r":100.35},{"x":2.4,"y":-0.4,"b":0.0407,"r":100.376},{"x":2.5,"y":-0.4,"b":0.0427,"r":100.404},{"x":2.6,"y":-0.4,"b":0.0447,"r":100.432},{"x":2.7,"y":-0.4,"b":0.0467,"r":100.461},{"x":2.8,"y":-0.4,"b":0.0487,"r":100.492},{"x":2.9,"y":-0.4,"b":0.0507,"r":100.523},{"x":3,"y":-0.4,"b":0.0527,"r":100.555},
{"x":0,"y":-0.3,"b":-0.0054,"r":100.004},{"x":0.1,"y":-0.3,"b":-0.0034,"r":100.008},{"x":0.2,"y":-0.3,"b":-0.0014,"r":100.012},{"x":0.3,"y":-0.3,"b":0.0006,"r":100.017},{"x":0.4,"y":-0.3,"b":0.0026,"r":100.024},{"x":0.5,"y":-0.3,"b":0.0046,"r":100.031},{"x":0.6,"y":-0.3,"b":0.0066,"r":100.039},{"x":0.7,"y":-0.3,"b":0.0086,"r":100.048},{"x":0.8,"y":-0.3,"b":0.0106,"r":100.058},{"x":0.9,"y":-0.3,"b":0.0126,"r":100.069},{"x":1,"y":-0.3,"b":0.0146,"r":100.081},{"x":1.1,"y":-0.3,"b":0.0166,"r":100.094},{"x":1.2,"y":-0.3,"b":0.0186,"r":100.108},{"x":1.3,"y":-0.3,"b":0.0206,"r":100.123},{"x":1.4,"y":-0.3,"b":0.0226,"r":100.139},{"x":1.5,"y":-0.3,"b":0.0246,"r":100.156},{"x":1.6,"y":-0.3,"b":0.0266,"r":100.173},{"x":1.7,"y":-0.3,"b":0.0286,"r":100.192},{"x":1.8,"y":-0.3,"b":0.0306,"r":100.212},{"x":1.9,"y":-0.3,"b":0.0326,"r":100.232},{"x":2,"y":-0.3,"b":0.0346,"r":100.254},{"x":2.1,"y":-0.3,"b":0.0366,"r":100.276},{"x":2.2,"y":-0.3,"b":0.0386,"r":100.3},{"x":2.3,"y":-0.3,"b":0.0406,"r":100.324},{"x":2.4,"y":-0.3,"b":0.0426,"r":100.35},{"x":2.5,"y":-0.3,"b":0.0446,"r":100.376},{"x":2.6,"y":-0.3,"b":0.0466,"r":100.404},{"x":2.7,"y":-0.3,"b":0.0486,"r":100.432},{"x":2.8,"y":-0.3,"b":0.0506,"r":100.461},{"x":2.9,"y":-0.3,"b":0.0526,"r":100.492},{"x":3,"y":-0.3,"b":0.0546,"r":100.523},
{"x":0,"y":-0.2,"b":-0.0035,"r":100.002},{"x":0.1,"y":-0.2,"b":-0.0015,"r":100.004},{"x":0.2,"y":-0.2,"b":0.0005,"r":100.008},{"x":0.3,"y":-0.2,"b":0.0025,"r":100.012},{"x":0.4,"y":-0.2,"b":0.0045,"r":100.017},{"x":0.5,"y":-0.2,"b":0.0065,"r":100.024},{"x":0.6,"y":-0.2,"b":0.0085,"r":100.031},{"x":0.7,"y":-0.2,"b":0.0105,"r":100.039},{"x":0.8,"y":-0.2,"b":0.0125,"r":100.048},{"x":0.9,"y":-0.2,"b":0.0145,"r":100.058},{"x":1,"y":-0.2,"b":0.0165,"r":100.069},{"x":1.1,"y":-0.2,"b":0.0185,"r":100.081},{"x":1.2,"y":-0.2,"b":0.0205,"r":100.094},{"x":1.3,"y":-0.2,"b":0.0225,"r":100.108},{"x":1.4,"y":-0.2,"b":0.0245,"r":100.123},{"x":1.5,"y":-0.2,"b":0.0265,"r":100.139},{"x":1.6,"y":-0.2,"b":0.0285,"r":100.156},{"x":1.7,"y":-0.2,"b":0.0305,"r":100.173},{"x":1.8,"y":-0.2,"b":0.0325,"r":100.192},{"x":1.9,"y":-0.2,"b":0.0345,"r":100.212},{"x":2,"y":-0.2,"b":0.0365,"r":100.232},{"x":2.1,"y":-0.2,"b":0.0385,"r":100.254},{"x":2.2,"y":-0.2,"b":0.0405,"r":100.276},{"x":2.3,"y":-0.2,"b":0.0425,"r":100.3},{"x":2.4,"y":-0.2,"b":0.0445,"r":100.324},{"x":2.5,"y":-0.2,"b":0.0465,"r":100.35},{"x":2.6,"y":-0.2,"b":0.0485,"r":100.376},{"x":2.7,"y":-0.2,"b":0.0505,"r":100.404},{"x":2.8,"y":-0.2,"b":0.0525,"r":100.432},{"x":2.9,"y":-0.2,"b":0.0545,"r":100.461},{"x":3,"y":-0.2,"b":0.0565,"r":100.492},
{"x":0,"y":-0.1,"b":-0.0016,"r":100},{"x":0.1,"y":-0.1,"b":0.0004,"r":100.002},{"x":0.2,"y":-0.1,"b":0.0024,"r":100.004},{"x":0.3,"y":-0.1,"b":0.0044,"r":100.008},{"x":0.4,"y":-0.1,"b":0.0064,"r":100.012},{"x":0.5,"y":-0.1,"b":0.0084,"r":100.017},{"x":0.6,"y":-0.1,"b":0.0104,"r":100.024},{"x":0.7,"y":-0.1,"b":0.0124,"r":100.031},{"x":0.8,"y":-0.1,"b":0.0144,"r":100.039},{"x":0.9,"y":-0.1,"b":0.0164,"r":100.048},{"x":1,"y":-0.1,"b":0.0184,"r":100.058},{"x":1.1,"y":-0.1,"b":0.0204,"r":100.069},{"x":1.2,"y":-0.1,"b":0.0224,"r":100.081},{"x":1.3,"y":-0.1,"b":0.0244,"r":100.094},{"x":1.4,"y":-0.1,"b":0.0264,"r":100.108},{"x":1.5,"y":-0.1,"b":0.0284,"r":100.123},{"x":1.6,"y":-0.1,"b":0.0304,"r":100.139},{"x":1.7,"y":-0.1,"b":0.0324,"r":100.156},{"x":1.8,"y":-0.1,"b":0.0344,"r":100.173},{"x":1.9,"y":-0.1,"b":0.0364,"r":100.192},{"x":2,"y":-0.1,"b":0.0384,"r":100.212},{"x":2.1,"y":-0.1,"b":0.0404,"r":100.232},{"x":2.2,"y":-0.1,"b":0.0424,"r":100.254},{"x":2.3,"y":-0.1,"b":0.0444,"r":100.276},{"x":2.4,"y":-0.1,"b":0.0464,"r":100.3},{"x":2.5,"y":-0.1,"b":0.0484,"r":100.324},{"x":2.6,"y":-0.1,"b":0.0504,"r":100.35},{"x":2.7,"y":-0.1,"b":0.0524,"r":100.376},{"x":2.8,"y":-0.1,"b":0.0544,"r":100.404},{"x":2.9,"y":-0.1,"b":0.0564,"r":100.432},{"x":3,"y":-0.1,"b":0.0584,"r":100.461}
]},
"resolve":{"scale":{"color":"independent"},"legend":{"color":"independent"}},
"hconcat":[
{
 "width":320,"height":328,
 "data":{"name":"g"},
 "title":{"text":"Final buoyancy after mixing","frame":"group","anchor":"middle","offset":2},
 "layer":[
  {"mark":{"type":"rect","clip":true,"binSpacing":-1},
   "encoding":{
    "x":{"field":"x","type":"quantitative","bin":{"step":0.1,"extent":[-0.05,3.05],"nice":false},"scale":{"domain":[-0.05,3],"nice":false,"zero":false},
         "axis":{"values":[0,0.5,1,1.5,2,2.5,3],"labelExpr":"''+datum.value","labelPadding":6,"grid":true,"title":"T\u00a0\u00a0\u00a0\u00a0\u00a0\u00a0- T","titleFontSize":15,"titleAlign":"left","titleBaseline":"alphabetic","titleX":124,"titleY":29}},
    "y":{"field":"y","type":"quantitative","bin":{"step":0.1,"extent":[-3.05,-0.05],"nice":false},"scale":{"domain":[-3,-0.05],"reverse":true,"nice":false,"zero":false},
         "axis":{"values":[-3,-2.5,-2,-1.5,-1,-0.5],"labelExpr":"''+datum.value","labelPadding":4,"grid":true,"title":"T\u00a0\u00a0\u00a0\u00a0\u00a0\u00a0\u00a0\u00a0\u00a0\u00a0- T","titleFontSize":15,"titleAngle":-90,"titleAlign":"left","titleBaseline":"alphabetic","titleX":-36,"titleY":208}},
    "color":{"field":"b","type":"quantitative","scale":{"domain":[-0.0565,0,0.059],"range":["#0000ff","#ffffff","#ff0000"],"interpolate":"rgb"},
         "legend":{"type":"gradient","title":"Buoyancy [m/s²]","values":[-0.05,-0.04,-0.03,-0.02,-0.01,0,0.01,0.02,0.03,0.04,0.05],"labelExpr":"''+datum.value","encode":{"title":{"update":{"angle":{"value":-90},"baseline":{"value":"top"}}}}}}
   }},
  {"mark":{"type":"point","opacity":0},
   "encoding":{
    "x":{"field":"x","type":"quantitative","scale":{"domain":[-0.05,3],"nice":false,"zero":false},
         "axis":{"orient":"bottom","labels":false,"grid":false,"title":"core\u00a0\u00a0\u00a0\u00a0\u00a0\u00a0\u00a0\u00a0env","titleFontSize":10,"titleAlign":"left","titleBaseline":"alphabetic","titleX":133,"titleY":35}},
    "y":{"field":"y","type":"quantitative","scale":{"domain":[-3,-0.05],"reverse":true,"nice":false,"zero":false},
         "axis":{"orient":"left","labels":false,"grid":false,"title":"margin\u00a0\u00a0\u00a0\u00a0\u00a0\u00a0\u00a0\u00a0\u00a0env","titleFontSize":10,"titleAngle":-90,"titleAlign":"left","titleBaseline":"alphabetic","titleX":-29,"titleY":196}}
   }}
 ],
 "resolve":{"axis":{"x":"independent","y":"independent"}}
},
{
 "width":318,"height":328,
 "data":{"name":"g"},
 "title":{"text":"Final RH after mixing, minimum = 100%","frame":"group","anchor":"middle","offset":2},
 "layer":[
  {"mark":{"type":"rect","clip":true,"binSpacing":-1},
   "encoding":{
    "x":{"field":"x","type":"quantitative","bin":{"step":0.1,"extent":[-0.05,3.05],"nice":false},"scale":{"domain":[-0.05,3],"nice":false,"zero":false},
         "axis":{"values":[0,0.5,1,1.5,2,2.5,3],"labelExpr":"''+datum.value","labelPadding":6,"grid":true,"title":"T\u00a0\u00a0\u00a0\u00a0\u00a0\u00a0- T","titleFontSize":15,"titleAlign":"left","titleBaseline":"alphabetic","titleX":123,"titleY":29}},
    "y":{"field":"y","type":"quantitative","bin":{"step":0.1,"extent":[-3.05,-0.05],"nice":false},"scale":{"domain":[-3,-0.05],"reverse":true,"nice":false,"zero":false},
         "axis":{"values":[-3,-2.5,-2,-1.5,-1,-0.5],"labelExpr":"''+datum.value","labelPadding":4,"grid":true,"title":"T\u00a0\u00a0\u00a0\u00a0\u00a0\u00a0\u00a0\u00a0\u00a0\u00a0- T","titleFontSize":15,"titleAngle":-90,"titleAlign":"left","titleBaseline":"alphabetic","titleX":-37,"titleY":208}},
    "color":{"field":"r","type":"quantitative","scale":{"domain":[100,100.21625,100.64875,101.08125,101.51375,101.73],"range":["#000080","#0000ff","#00ffff","#ffff00","#ff0000","#800000"],"interpolate":"rgb"},
         "legend":{"type":"gradient","title":"RH [%]","titlePadding":6,"values":[100.2,100.4,100.6,100.8,101,101.2,101.4,101.6],"labelExpr":"''+datum.value","encode":{"title":{"update":{"angle":{"value":-90},"baseline":{"value":"top"}}}}}}
   }},
  {"mark":{"type":"point","opacity":0},
   "encoding":{
    "x":{"field":"x","type":"quantitative","scale":{"domain":[-0.05,3],"nice":false,"zero":false},
         "axis":{"orient":"bottom","labels":false,"grid":false,"title":"core\u00a0\u00a0\u00a0\u00a0\u00a0\u00a0\u00a0\u00a0env","titleFontSize":10,"titleAlign":"left","titleBaseline":"alphabetic","titleX":132,"titleY":35}},
    "y":{"field":"y","type":"quantitative","scale":{"domain":[-3,-0.05],"reverse":true,"nice":false,"zero":false},
         "axis":{"orient":"left","labels":false,"grid":false,"title":"margin\u00a0\u00a0\u00a0\u00a0\u00a0\u00a0\u00a0\u00a0\u00a0env","titleFontSize":10,"titleAngle":-90,"titleAlign":"left","titleBaseline":"alphabetic","titleX":-30,"titleY":196}}
   }}
 ],
 "resolve":{"axis":{"x":"independent","y":"independent"}}
}
]
}
